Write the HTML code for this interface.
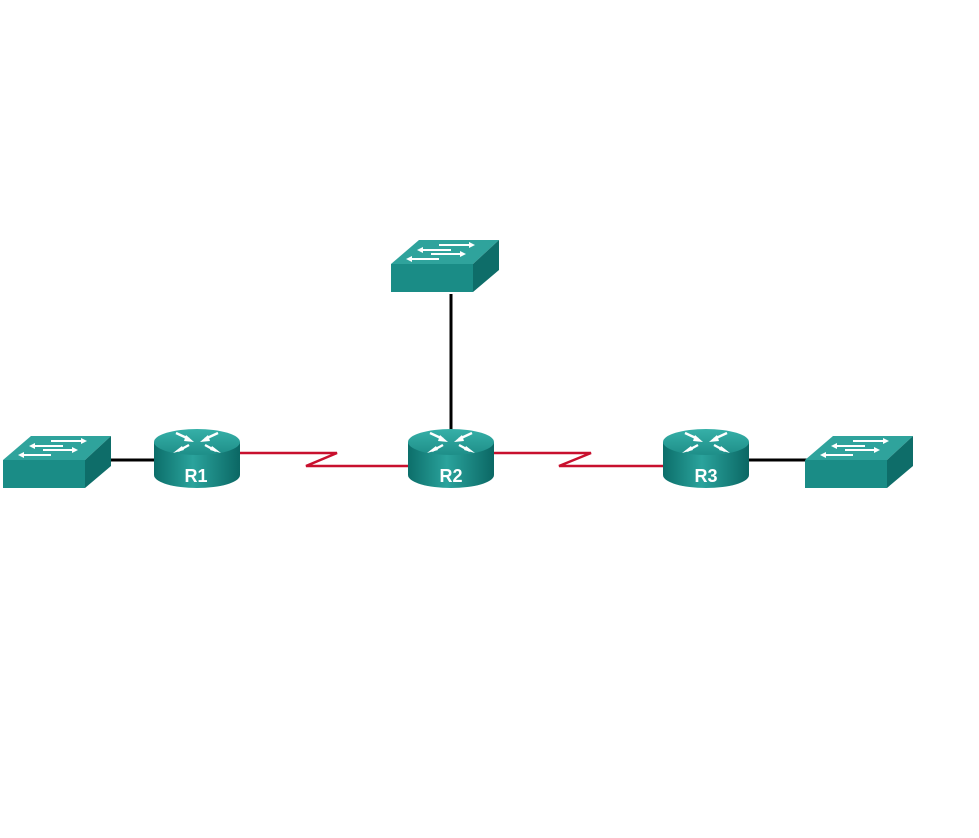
<!DOCTYPE html>
<html><head><style>html,body{margin:0;background:#fff;}</style></head><body>
<svg width="979" height="833" viewBox="0 0 979 833" xmlns="http://www.w3.org/2000/svg">
<defs>
<linearGradient id="gb" x1="0" x2="1" y1="0" y2="0">
<stop offset="0" stop-color="#0c6e6a"/><stop offset="0.45" stop-color="#2aa39c"/><stop offset="1" stop-color="#0b6764"/></linearGradient>
<linearGradient id="gt" x1="0" x2="0" y1="0" y2="1">
<stop offset="0" stop-color="#36b0a8"/><stop offset="1" stop-color="#1e8e88"/></linearGradient>
<g id="sw">
<polygon points="0,24 28,0 108,0 82,24" fill="#2fa39c"/>
<polygon points="0,24 82,24 82,52 0,52" fill="#1a8c86"/>
<polygon points="82,24 108,0 108,30 82,52" fill="#0e6d69"/>
<g stroke="#fff" stroke-width="2" fill="#fff">
<line x1="48" y1="5" x2="80" y2="5"/><polygon points="84,5 78,2 78,8" stroke="none"/>
<line x1="30" y1="10" x2="60" y2="10"/><polygon points="26,10 32,7 32,13" stroke="none"/>
<line x1="40" y1="14" x2="70" y2="14"/><polygon points="75,14 69,11 69,17" stroke="none"/>
<line x1="20" y1="19" x2="48" y2="19"/><polygon points="15,19 21,16 21,22" stroke="none"/>
</g>
</g>
<g id="router">
<path d="M0,14 L0,47 A43,13 0 0 0 86,47 L86,14 Z" fill="url(#gb)"/>
<ellipse cx="43" cy="14" rx="43" ry="13" fill="url(#gt)"/>
<g stroke="#fff" stroke-width="2.4" fill="#fff">
<line x1="22" y1="5" x2="35" y2="11"/><polygon points="40,14 32,7 30,13" stroke="none"/>
<line x1="64" y1="5" x2="51" y2="11"/><polygon points="46,14 54,7 56,13" stroke="none"/>
<line x1="35" y1="17" x2="24" y2="23"/><polygon points="19,25 28,18 30,22" stroke="none"/>
<line x1="51" y1="17" x2="62" y2="23"/><polygon points="67,25 58,18 56,22" stroke="none"/>
</g>
</g>
</defs>
<g stroke="#000" stroke-width="3">
<line x1="105" y1="460" x2="158" y2="460"/>
<line x1="451" y1="294" x2="451" y2="432"/>
<line x1="745" y1="460" x2="808" y2="460"/>
</g>
<g stroke="#c8102e" stroke-width="2.5" fill="none">
<polyline points="238,453 337,453 306,466 410,466"/>
<polyline points="492,453 591,453 559,466 665,466"/>
</g>
<use href="#sw" x="3" y="436"/>
<use href="#sw" x="391" y="240"/>
<use href="#sw" x="805" y="436"/>
<use href="#router" x="154" y="428"/>
<use href="#router" x="408" y="428"/>
<use href="#router" x="663" y="428"/>
<g font-family="Liberation Sans, sans-serif" font-weight="bold" font-size="18" fill="#fff" text-anchor="middle">
<text x="196" y="482">R1</text>
<text x="451" y="482">R2</text>
<text x="706" y="482">R3</text>
</g>
</svg>
</body></html>
